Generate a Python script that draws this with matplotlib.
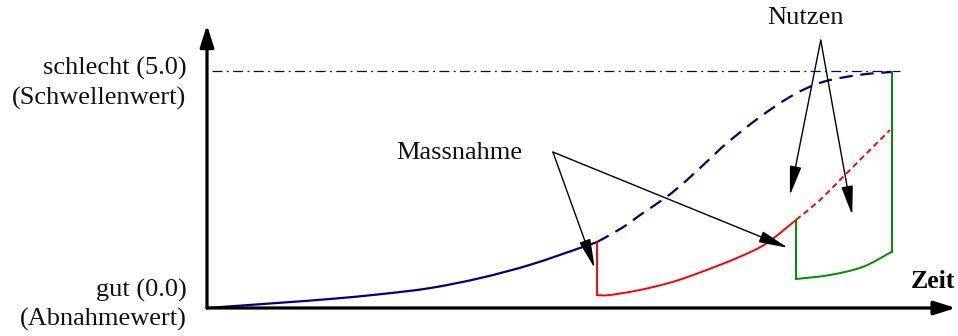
import matplotlib
matplotlib.use("Agg")
import matplotlib.pyplot as plt
from matplotlib.patches import FancyArrowPatch, PathPatch
from matplotlib.path import Path

plt.rcParams['font.family'] = ['Liberation Serif', 'DejaVu Serif']

# --- condition over time (0 = gut, 5 = schlecht) ---
threshold = 5.0

# deterioration without any measure: solid part until the measure
base_t = [0.0, 1.066, 1.796, 2.526, 3.255, 3.985, 4.715, 5.445, 5.693]
base_v = [0.0, 0.11, 0.19, 0.29, 0.42, 0.63, 0.91, 1.266, 1.39]

# deterioration without any measure: continued (dashed)
base_cont_t = [5.693, 6.07, 6.365, 6.715, 7.007, 7.343, 7.591, 8.073, 8.555, 8.993, 9.533, 10.0]
base_cont_v = [1.39, 1.70, 2.004, 2.35, 2.70, 3.15, 3.48, 4.03, 4.49, 4.77, 4.92, 4.98]

# after first measure
m1_t = [5.693, 5.883, 6.321, 6.808, 7.295, 7.781, 8.17, 8.6]
m1_v = [0.27, 0.274, 0.38, 0.555, 0.802, 1.082, 1.365, 1.86]

# first measure continued without second measure (dashed)
m1_cont_t = [8.6, 8.949, 9.24, 9.53, 9.971]
m1_cont_v = [1.86, 2.278, 2.70, 3.12, 3.755]

# after second measure
m2_t = [8.6, 9.095, 9.58, 10.0]
m2_v = [0.612, 0.696, 0.87, 1.19]

t_end = 10.0
threshold_t = [0.07, 10.12]

BLUE = '#000080'
RED = '#ff0000'
GREEN = '#008c00'


def smooth_path(ts, vs):
    """Cubic Bezier path through the given points (Catmull-Rom tangents)."""
    pts = list(zip(ts, vs))
    verts = [pts[0]]
    codes = [Path.MOVETO]
    n = len(pts)
    for i in range(n - 1):
        p0 = pts[i - 1] if i > 0 else pts[i]
        p1 = pts[i]
        p2 = pts[i + 1]
        p3 = pts[i + 2] if i + 2 < n else pts[i + 1]
        c1 = (p1[0] + (p2[0] - p0[0]) / 6, p1[1] + (p2[1] - p0[1]) / 6)
        c2 = (p2[0] - (p3[0] - p1[0]) / 6, p2[1] - (p3[1] - p1[1]) / 6)
        verts += [c1, c2, p2]
        codes += [Path.CURVE4] * 3
    return Path(verts, codes)


def curve(ax, ts, vs, **kw):
    patch = PathPatch(smooth_path(ts, vs), fill=False, capstyle='butt', **kw)
    ax.add_patch(patch)
    return patch


fig = plt.figure(figsize=(9.58, 3.36), dpi=100)
ax = fig.add_axes([0, 0, 1, 1])
ax.set_xlim(-3.022, 10.964)
ax.set_ylim(-0.591, 6.498)
ax.axis('off')

# threshold line
ax.plot(threshold_t, [threshold, threshold], color=BLUE, lw=0.9,
        dashes=(8, 3.5, 1.5, 3.5))

# curves
curve(ax, base_t, base_v, edgecolor=BLUE, lw=1.6)
p = curve(ax, base_cont_t, base_cont_v, edgecolor=BLUE, lw=1.6)
p.set_linestyle((0, (6, 3.5)))

ax.plot([m1_t[0], m1_t[0]], [base_v[-1], m1_v[0]], color=RED, lw=1.4)
curve(ax, m1_t, m1_v, edgecolor=RED, lw=1.4)
p = curve(ax, m1_cont_t, m1_cont_v, edgecolor=RED, lw=1.4)
p.set_linestyle((0, (3, 2)))

ax.plot([m2_t[0], m2_t[0]], [m1_v[-1], m2_v[0]], color=GREEN, lw=1.4)
curve(ax, m2_t, m2_v, edgecolor=GREEN, lw=1.4)
ax.plot([t_end, t_end], [m2_v[-1], base_cont_v[-1]], color=GREEN, lw=1.4)

# axes with arrow heads
for end in [(0, 5.97), (10.93, 0)]:
    ax.add_patch(FancyArrowPatch((0, 0), end, arrowstyle='-|>,head_length=1.1,head_width=0.35',
                                 mutation_scale=12, lw=2.3, color='black',
                                 shrinkA=0, shrinkB=0))

# axis labels
lab = dict(fontsize=19, ha='right', va='center', color='#111111')
ax.text(-0.3, 5.06, 'schlecht (5.0)', **lab)
ax.text(-0.3, 4.43, '(Schwellenwert)', **lab)
ax.text(-0.3, 0.38, 'gut (0.0)', **lab)
ax.text(-0.3, -0.25, '(Abnahmewert)', **lab)
ax.text(10.92, 0.55, 'Zeit', fontsize=18.5, fontweight='bold', ha='right', va='center')

# annotations
arrow_kw = dict(arrowstyle='-|>,head_length=1.8,head_width=0.36',
                mutation_scale=10, lw=1.0, color='black', shrinkA=0, shrinkB=0)

ax.text(3.68, 3.27, 'Massnahme', fontsize=19, ha='center', va='center', color='#111111')
for tip in [(5.66, 0.84), (8.48, 1.27)]:
    ax.add_patch(FancyArrowPatch((5.05, 3.29), tip, **arrow_kw))

ax.text(8.73, 6.12, 'Nutzen', fontsize=19, ha='center', va='center', color='#111111')
for tip in [(8.51, 2.38), (9.42, 1.96)]:
    ax.add_patch(FancyArrowPatch((8.96, 5.65), tip, **arrow_kw))

fig.savefig('out.png', dpi=100)
